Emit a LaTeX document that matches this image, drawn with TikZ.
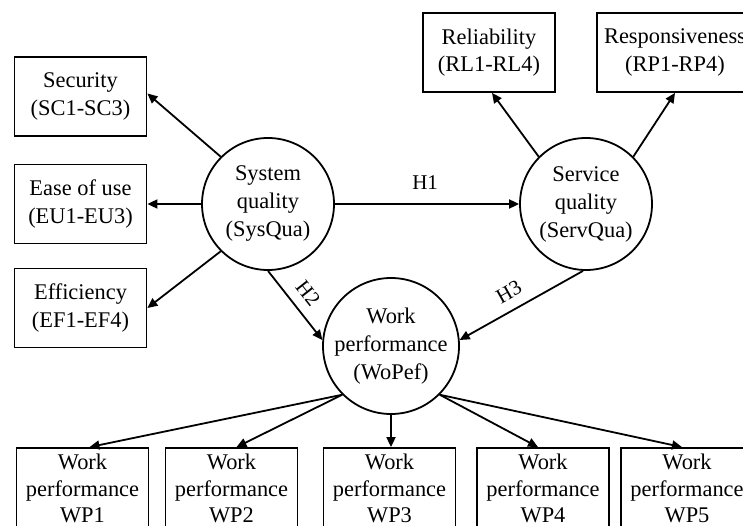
\documentclass[tikz,border=0pt]{standalone}
\usepackage{fontspec}
\setmainfont{Liberation Serif}
\usetikzlibrary{arrows.meta}
\begin{document}
\begin{tikzpicture}[x=1pt,y=-1pt,
  box/.style={draw,line width=1.8pt,rectangle,minimum width=132pt,minimum height=79pt,inner sep=0pt,align=center,font=\fontsize{22.4}{27.5}\selectfont},
  wpbox/.style={box,minimum height=81pt,font=\fontsize{22.4}{26.5}\selectfont},
  latent/.style={draw,line width=1.8pt,circle,minimum size=132pt,inner sep=0pt,align=center,font=\fontsize{22.4}{28}\selectfont},
  arr/.style={line width=1.8pt,-{Triangle[length=10pt,width=9pt]}},
  hlab/.style={font=\fontsize{21}{23}\selectfont,inner sep=0pt}]
\useasboundingbox (0,0) rectangle (743,526);
\begin{scope}
\clip (0,0) rectangle (743,526);
% indicator boxes
\node[box] (sec) at (80.5,96.5) {Security\\(SC1-SC3)};
\node[box] (ease) at (80.5,204) {Ease of use\\(EU1-EU3)};
\node[box] (eff) at (80.5,308) {Efficiency\\(EF1-EF4)};
\node[box] (rel) at (489,52.5) {Reliability\\(RL1-RL4)};
\node[box,minimum width=156pt] (resp) at (675,52.5) {Responsiveness\\(RP1-RP4)};
\node[wpbox] (wp1) at (82.5,488.5) {Work\\performance\\WP1};
\node[wpbox] (wp2) at (231.5,488.5) {Work\\performance\\WP2};
\node[wpbox] (wp3) at (389.5,488.5) {Work\\performance\\WP3};
\node[wpbox] (wp4) at (543,488.5) {Work\\performance\\WP4};
\node[wpbox] (wp5) at (687,488.5) {Work\\performance\\WP5};
% latent variables
\node[latent] (sys) at (268,204) {System\\quality\\(SysQua)};
\node[latent] (serv) at (586,204) {Service\\quality\\(ServQua)};
\node[latent] (wopef) at (391,346) {Work\\performance\\(WoPef)};
% connectors
\draw[arr] (sys.135) -- ([yshift=3pt]sec.east);
\draw[arr] (sys.west) -- (ease.east);
\draw[arr] (sys.225) -- (eff.east);
\draw[arr] (serv.135) -- ([xshift=3pt]rel.south);
\draw[arr] (serv.45) -- (resp.south);
\draw[arr] (sys.east) -- node[hlab,above=14pt,pos=0.49]{H1} (serv.west);
\draw[arr] (sys.south) -- node[hlab,sloped,above=10pt,pos=0.48]{H2} (wopef.175);
\draw[arr] ([xshift=-3pt]serv.south) -- node[hlab,sloped,above=10pt,pos=0.53]{H3} (wopef.5);
\draw[arr] (wopef.225) -- ([xshift=7pt]wp1.north);
\draw[arr] (wopef.225) -- ([xshift=5pt]wp2.north);
\draw[arr] (wopef.south) -- (wopef.south |- wp3.north);
\draw[arr] (wopef.-45) -- ([xshift=-5pt]wp4.north);
\draw[arr] (wopef.-45) -- ([xshift=-5pt]wp5.north);
\end{scope}
\end{tikzpicture}
\end{document}
